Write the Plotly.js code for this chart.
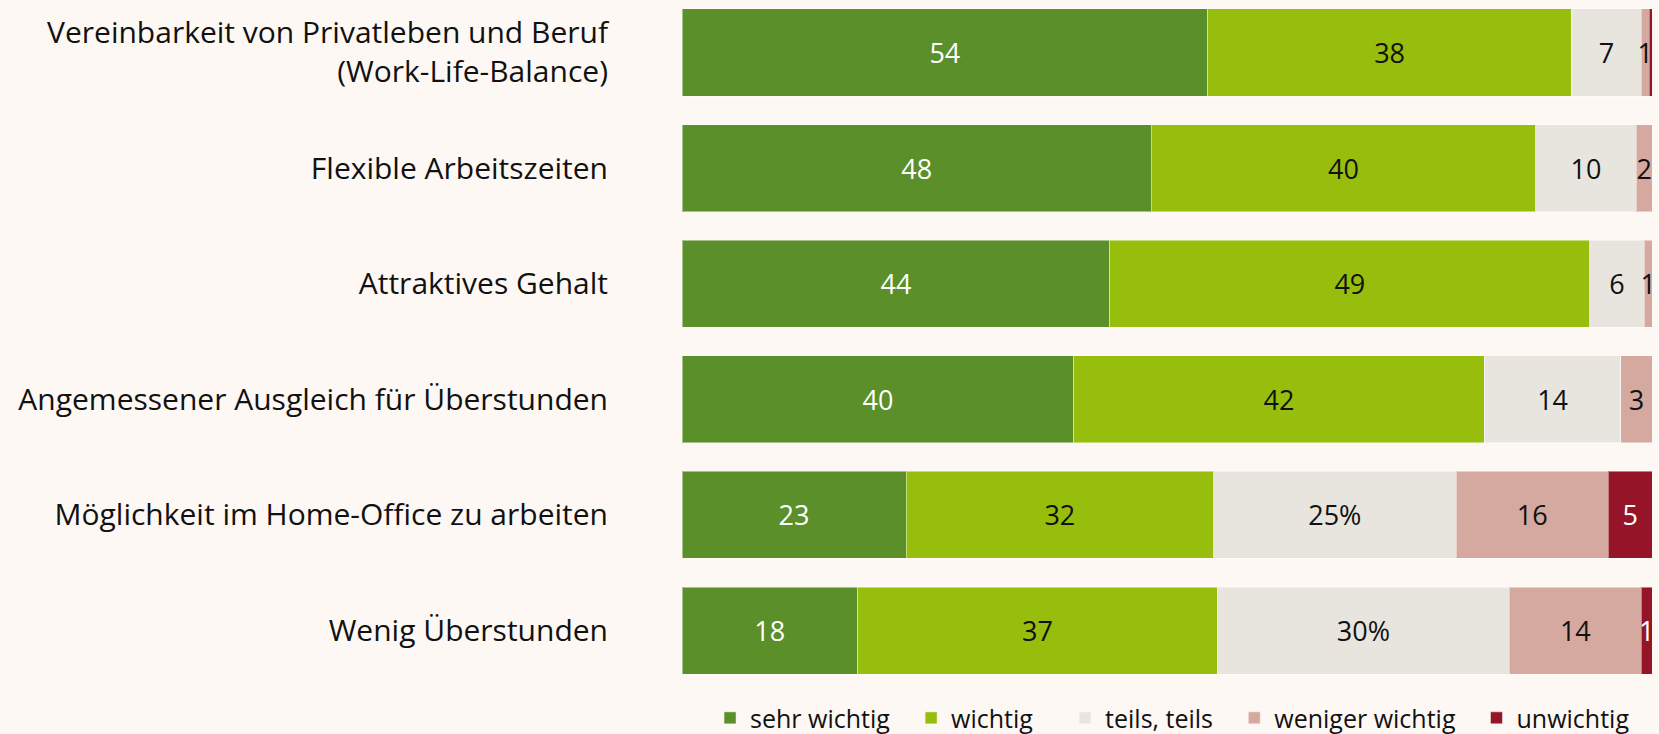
<!DOCTYPE html>
<html>
<head>
<meta charset="utf-8">
<script src="https://cdn.plot.ly/plotly-3.0.1.min.js"></script>
<style>html,body{margin:0;padding:0;background:#FDF8F4;}#chart{width:1659px;height:734px;}</style>
</head>
<body>
<div id="chart"></div>
<script>
var categories = [
  "Vereinbarkeit von Privatleben und Beruf<br>(Work-Life-Balance)",
  "Flexible Arbeitszeiten",
  "Attraktives Gehalt",
  "Angemessener Ausgleich für Überstunden",
  "Möglichkeit im Home-Office zu arbeiten",
  "Wenig Überstunden"
];
var seriesNames = ["sehr wichtig", "wichtig", "teils, teils", "weniger wichtig", "unwichtig"];
var sehrWichtig   = [54.2, 48.4, 44.1, 40.4, 23.1, 18.1];
var wichtig       = [37.5, 39.6, 49.5, 42.3, 31.7, 37.1];
var teilsTeils    = [7.2, 10.4, 5.6, 14.1, 25.0, 30.1];
var wenigerWichtig= [0.8, 1.6, 0.8, 3.2, 15.7, 13.6];
var unwichtig     = [0.3, 0.0, 0.0, 0.0, 4.5, 1.1];
var labelsSehr    = ["54", "48", "44", "40", "23", "18"];
var labelsWichtig = ["38", "40", "49", "42", "32", "37"];
var labelsTeils   = ["7", "10", "6", "14", "25%", "30%"];
var labelsWeniger = ["1", "2", "1", "3", "16", "14"];
var labelsUn      = ["", "", "", "", "5", "1"];

var colors = ["#5A8F29", "#97BE0D", "#E8E5DF", "#D5A9A0", "#961428"];
var textColors = ["#FFFFFF", "#111111", "#111111", "#111111", "#FFFFFF"];
var values = [sehrWichtig, wichtig, teilsTeils, wenigerWichtig, unwichtig];
var labels = [labelsSehr, labelsWichtig, labelsTeils, labelsWeniger, labelsUn];
var legendX = [0.4280, 0.5492, 0.6420, 0.7440, 0.8900];

var FONT = "Open Sans, Noto Sans, sans-serif";
var traces = [];
var layout = {
  width: 1659, height: 734,
  paper_bgcolor: "#FDF8F4", plot_bgcolor: "rgba(0,0,0,0)",
  margin: {l: 682, r: 7, t: 0, b: 46, pad: 0, autoexpand: false},
  barmode: "stack", bargap: 0.247,
  font: {family: FONT, color: "#111111"},
  uniformtext: {mode: "show", minsize: 27},
  xaxis: {range: [0, 100], visible: false, fixedrange: true},
  yaxis: {
    type: "category", range: [5.497, -0.454],
    showgrid: false, zeroline: false, showline: false, ticks: "",
    ticklabelstandoff: 73,
    tickfont: {family: FONT, size: 30, color: "#111111"}
  },
  showlegend: true
};
for (var i = 0; i < 5; i++) {
  var lg = i === 0 ? "legend" : "legend" + (i + 1);
  traces.push({
    type: "bar", orientation: "h", name: seriesNames[i],
    y: categories, x: values[i], text: labels[i],
    textposition: "inside", insidetextanchor: "middle", textangle: 0,
    constraintext: "none",
    insidetextfont: {family: FONT, size: 27, color: textColors[i]},
    marker: {color: colors[i], line: {color: "rgba(255,255,255,0.45)", width: 1}},
    hoverinfo: "skip", legend: lg
  });
  layout[lg] = {
    x: legendX[i], xref: "container", xanchor: "left",
    y: 0.053, yref: "container", yanchor: "top",
    orientation: "h", bgcolor: "rgba(0,0,0,0)",
    font: {family: FONT, size: 25, color: "#111111"},
    itemwidth: 30
  };
}
Plotly.newPlot("chart", traces, layout, {staticPlot: true, displayModeBar: false});
</script>
</body>
</html>
